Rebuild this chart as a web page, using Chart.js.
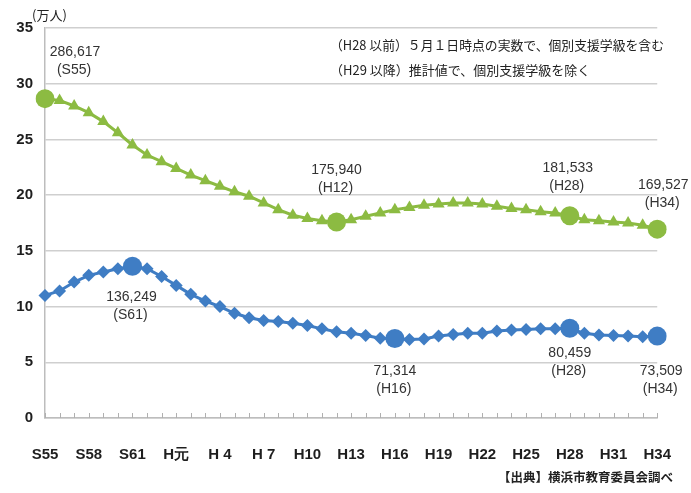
<!DOCTYPE html>
<html>
<head>
<meta charset="utf-8">
<script src="https://cdn.jsdelivr.net/npm/chart.js@4"></script>
<style>
  html, body { margin: 0; padding: 0; background: #fff; }
  #wrap { width: 691px; height: 493px; }
</style>
</head>
<body>
<div id="wrap"><canvas id="chart" width="691" height="493"></canvas></div>
<script>
// ── Data ──────────────────────────────────────────────────────────────────────
const years = [
    'S55','S56','S57','S58','S59','S60','S61','S62','S63',
    'H元','H2','H3','H4','H5','H6','H7','H8','H9','H10','H11','H12',
    'H13','H14','H15','H16','H17','H18','H19','H20','H21','H22',
    'H23','H24','H25','H26','H27','H28','H29','H30','H31','H32','H33','H34'
];
const xTickLabels = ['S55','S58','S61','H元','H 4','H 7','H10','H13','H16','H19','H22','H25','H28','H31','H34'];
const yTicks = [0, 5, 10, 15, 20, 25, 30, 35];

// 小学校 (万人)
const elementary = [
    28.66, 28.5, 28.0, 27.4, 26.6, 25.6, 24.5, 23.6, 23.0, 22.4, 21.8,
    21.3, 20.8, 20.3, 19.9, 19.3, 18.7, 18.2, 17.9, 17.7, 17.59,
    17.8, 18.1, 18.4, 18.7, 18.9, 19.1, 19.2, 19.3, 19.3, 19.2,
    19.0, 18.8, 18.7, 18.5, 18.4, 18.15, 17.8, 17.7, 17.6, 17.5, 17.3, 16.95
];
// 中学校 (万人)
const juniorHigh = [
    11.0, 11.4, 12.2, 12.8, 13.1, 13.4, 13.62, 13.4, 12.7, 11.9, 11.1,
    10.5, 10.0, 9.4, 9.0, 8.75, 8.65, 8.5, 8.3, 8.0, 7.75,
    7.6, 7.4, 7.15, 7.13, 7.05, 7.1, 7.35, 7.5, 7.6, 7.6,
    7.8, 7.9, 7.95, 8.0, 8.0, 8.05, 7.6, 7.45, 7.4, 7.35, 7.3, 7.35
];

const elemMarkIdx  = [0, 20, 36, 42];
const elemMarkText = ['286,617', '175,940', '181,533', '169,527'];
const elemMarkEra  = ['(S55)', '(H12)', '(H28)', '(H34)'];

const juniorMarkIdx  = [6, 24, 36, 42];
const juniorMarkText = ['136,249', '71,314', '80,459', '73,509'];
const juniorMarkEra  = ['(S61)', '(H16)', '(H28)', '(H34)'];

const noteLines = [
    '（H28 以前）５月１日時点の実数で、個別支援学級を含む',
    '（H29 以降）推計値で、個別支援学級を除く'
];
const unitLabel = '(万人)';
const sourceLabel = '【出典】横浜市教育委員会調べ';

// ── Styles ────────────────────────────────────────────────────────────────────
const GREEN = '#8cbb42';
const BLUE  = '#3f7dc4';
const NUM_FONT = "'Liberation Sans', Arial, sans-serif";
const JP_FONT  = "'Noto Sans CJK JP', 'Noto Sans', sans-serif";

// label offsets relative to the highlighted point: [dx, dy of first line]
const elemLabelPos   = [[30, -47], [0, -52], [-2, -48], [6, -44]];
const juniorLabelPos = [[-1, 31], [0, 33], [0, 25], [4, 35]];

// ── Plugins ───────────────────────────────────────────────────────────────────
const innerTicks = {
    id: 'innerTicks',
    beforeDatasetsDraw(chart) {
        const { ctx, scales: { x, y } } = chart;
        const base = y.getPixelForValue(0);
        ctx.save();
        ctx.strokeStyle = '#b0b0b0';
        ctx.lineWidth = 1;
        years.forEach((_, i) => {
            const px = Math.round(x.getPixelForValue(i)) + 0.5;
            ctx.beginPath();
            ctx.moveTo(px, base);
            ctx.lineTo(px, base - 5);
            ctx.stroke();
        });
        ctx.restore();
    }
};

const textLayer = {
    id: 'textLayer',
    afterDraw(chart) {
        const { ctx } = chart;
        ctx.save();
        ctx.fillStyle = '#333';
        ctx.textAlign = 'center';
        ctx.textBaseline = 'middle';
        ctx.font = '14px ' + NUM_FONT;
        const put = (dsIndex, idxs, texts, eras, pos) => {
            const meta = chart.getDatasetMeta(dsIndex);
            idxs.forEach((idx, k) => {
                const pt = meta.data[idx];
                const cx = pt.x + pos[k][0];
                const cy = pt.y + pos[k][1];
                ctx.fillText(texts[k], cx, cy, 52);
                ctx.fillText(eras[k], cx - 1, cy + 18);
            });
        };
        put(0, elemMarkIdx, elemMarkText, elemMarkEra, elemLabelPos);
        put(1, juniorMarkIdx, juniorMarkText, juniorMarkEra, juniorLabelPos);

        // unit
        ctx.fillStyle = '#222';
        ctx.textAlign = 'left';
        ctx.font = '13px ' + JP_FONT;
        ctx.fillText(unitLabel, 32, 15);

        // notes
        ctx.font = '13px ' + JP_FONT;
        ctx.fillText(noteLines[0], 330, 45, 334);
        ctx.fillText(noteLines[1], 330, 70);

        // source
        ctx.textAlign = 'right';
        ctx.font = 'bold 12.5px ' + JP_FONT;
        ctx.fillText(sourceLabel, 673, 477);
        ctx.restore();
    }
};

// ── Chart ─────────────────────────────────────────────────────────────────────
const markStyle = (idxs, normal) => c => idxs.includes(c.dataIndex) ? 'circle' : normal;
const markRadius = (idxs, normal) => c => idxs.includes(c.dataIndex) ? 9.5 : normal;

new Chart(document.getElementById('chart'), {
    type: 'line',
    data: {
        labels: years,
        datasets: [
            {
                label: '小学校',
                data: elementary,
                borderColor: GREEN,
                backgroundColor: GREEN,
                borderWidth: 3,
                pointStyle: markStyle(elemMarkIdx, 'triangle'),
                pointRadius: markRadius(elemMarkIdx, 7),
                pointBorderWidth: 0,
                tension: 0
            },
            {
                label: '中学校',
                data: juniorHigh,
                borderColor: BLUE,
                backgroundColor: BLUE,
                borderWidth: 3,
                pointStyle: markStyle(juniorMarkIdx, 'rectRot'),
                pointRadius: markRadius(juniorMarkIdx, 6.5),
                pointBorderWidth: 0,
                tension: 0
            }
        ]
    },
    options: {
        responsive: false,
        animation: false,
        events: [],
        layout: { padding: { top: 28, right: 29, left: 0, bottom: 0 } },
        plugins: { legend: { display: false }, tooltip: { enabled: false } },
        scales: {
            x: {
                offset: false,
                grid: { display: false },
                border: { display: true, color: '#bdbdbd', width: 1.5 },
                ticks: {
                    autoSkip: false,
                    maxRotation: 0,
                    padding: 20,
                    color: '#1e1e1e',
                    font: { family: NUM_FONT, size: 15, weight: 'bold' },
                    callback: (v, i) => i % 3 === 0 ? xTickLabels[i / 3] : ''
                },
                afterFit: s => { s.height = 75; }
            },
            y: {
                min: 0,
                max: 35,
                afterBuildTicks: s => { s.ticks = yTicks.map(v => ({ value: v })); },
                grid: { color: '#cfcfcf', lineWidth: 1.5, drawTicks: false },
                border: { display: true, color: '#bdbdbd', width: 1.5 },
                ticks: {
                    padding: 12,
                    color: '#1e1e1e',
                    font: { family: NUM_FONT, size: 15, weight: 'bold' }
                },
                afterFit: s => { s.width = 45; }
            }
        }
    },
    plugins: [innerTicks, textLayer]
});
</script>
</body>
</html>
